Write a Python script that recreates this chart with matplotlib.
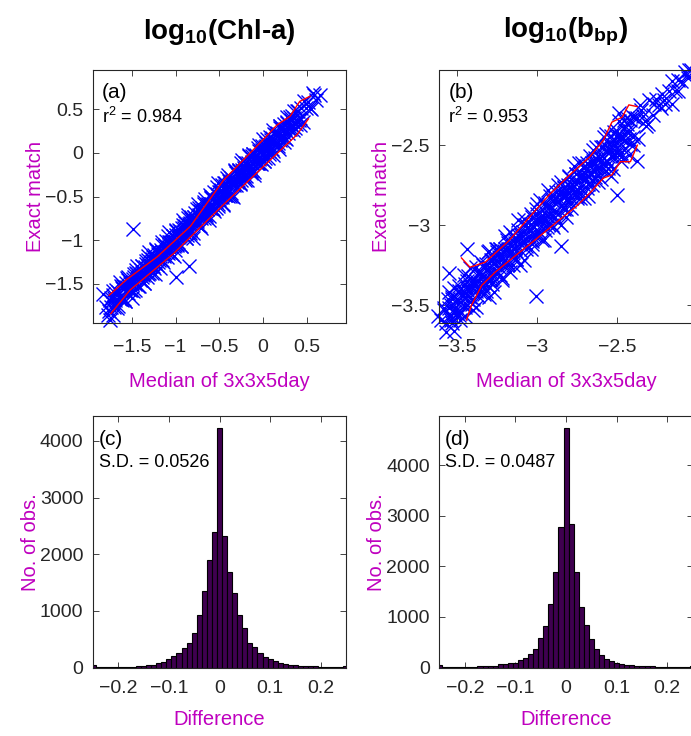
import numpy as np
import matplotlib
matplotlib.use('Agg')
import matplotlib.pyplot as plt
from matplotlib.ticker import FuncFormatter

plt.rcParams['font.family'] = ['Liberation Sans', 'DejaVu Sans']
plt.rcParams['mathtext.fontset'] = 'custom'
plt.rcParams['mathtext.rm'] = 'Liberation Sans'
plt.rcParams['mathtext.it'] = 'Liberation Sans:italic'
plt.rcParams['mathtext.bf'] = 'Liberation Sans:bold'
plt.rcParams['axes.unicode_minus'] = True

# ---------------- data ----------------
column_titles = ['log$_{\\mathbf{10}}$(Chl-a)', 'log$_{\\mathbf{10}}$(b$_{\\mathbf{bp}}$)']
panel_tags = ['(a)', '(b)', '(c)', '(d)']
r2_texts = ['r$^2$ = 0.984', 'r$^2$ = 0.953']
sd_texts = ['S.D. = 0.0526', 'S.D. = 0.0487']

# Panel (a): median of 3x3x5day (x) and difference exact - median (d)
chl_median_1 = [
    -1.80, -1.77, -1.75, -1.74, -1.72, -1.70, -1.69, -1.67, -1.66, -1.64,
    -1.63, -1.61, -1.60, -1.58, -1.57, -1.55, -1.54, -1.52, -1.51, -1.49,
    -1.48, -1.46, -1.45, -1.43, -1.42, -1.40, -1.39, -1.37, -1.36, -1.34,
    -1.33, -1.31, -1.30, -1.28, -1.27, -1.25, -1.24, -1.22, -1.21, -1.19,
    -1.18, -1.16, -1.15, -1.13, -1.12, -1.10, -1.09, -1.07, -1.06, -1.04,
    -1.03, -1.01, -1.00, -0.98, -0.97, -0.95, -0.94, -0.92, -0.91, -0.89,
    -0.88, -0.86, -0.85, -0.83, -0.82, -0.80, -0.79, -0.77, -0.76, -0.74,
    -0.73, -0.71, -0.70, -0.68, -0.67, -0.65, -0.64, -0.62, -0.61, -0.59,
    -0.58, -0.56, -0.55, -0.53, -0.52, -0.50, -0.49, -0.47, -0.46, -0.44,
    -0.43, -0.41, -0.40, -0.38, -0.37, -0.35, -0.34, -0.32, -0.31, -0.29,
    -0.28, -0.26, -0.25, -0.23, -0.22, -0.20, -0.19, -0.17, -0.16, -0.14,
    -0.13, -0.11, -0.10, -0.08, -0.07, -0.05, -0.04, -0.02, -0.01, 0.01,
    0.02, 0.04, 0.05, 0.07, 0.08, 0.10, 0.11, 0.13, 0.14, 0.16,
    0.17, 0.19, 0.20, 0.22, 0.24, 0.25, 0.27, 0.29, 0.31, 0.33,
    0.35, 0.37, 0.39, 0.41, 0.44, 0.46, 0.49, 0.52, 0.55, 0.58,
    -1.50, -1.44, -1.38, -1.32, -1.26, -1.20, -1.14, -1.08, -1.02, -0.96,
    -0.90, -0.84, -0.78, -0.72, -0.66, -0.60, -0.54, -0.48, -0.42, -0.36,
    -0.30, -0.24, -0.18, -0.12, -0.06, 0.00, 0.06, 0.12, 0.18, 0.24,
]
chl_diff_1 = [
    0.03, -0.09, 0.06, -0.02, 0.09, -0.06, 0.01, -0.11, 0.07, -0.03,
    0.10, -0.07, 0.04, -0.12, 0.08, -0.01, 0.12, -0.05, 0.02, -0.09,
    0.06, -0.03, 0.11, -0.10, 0.04, -0.06, 0.09, 0.00, -0.13, 0.07,
    -0.04, 0.13, -0.08, 0.03, -0.11, 0.08, -0.02, 0.11, -0.07, 0.05,
    -0.14, 0.02, 0.10, -0.05, 0.07, -0.09, 0.14, -0.01, 0.04, -0.12,
    0.08, -0.04, 0.12, -0.08, 0.01, 0.06, -0.13, 0.10, -0.02, 0.05,
    -0.10, 0.15, -0.06, 0.03, 0.09, -0.12, 0.06, -0.03, 0.12, -0.08,
    0.02, -0.15, 0.07, -0.01, 0.11, -0.06, 0.04, -0.10, 0.13, -0.04,
    0.08, -0.11, 0.01, 0.14, -0.07, 0.05, -0.02, 0.10, -0.13, 0.06,
    -0.05, 0.12, -0.09, 0.03, 0.08, -0.14, 0.00, 0.11, -0.06, 0.04,
    0.09, -0.08, 0.13, -0.03, 0.05, -0.11, 0.07, -0.01, 0.12, -0.09,
    0.02, 0.10, -0.12, 0.06, -0.04, 0.14, -0.07, 0.03, 0.09, -0.10,
    0.05, -0.02, 0.11, -0.08, 0.01, 0.07, -0.13, 0.09, -0.04, 0.03,
    -0.09, 0.12, -0.05, 0.06, -0.11, 0.02, 0.08, -0.06, 0.10, -0.02,
    0.05, -0.08, 0.09, -0.03, 0.07, -0.10, 0.03, 0.06, -0.05, 0.08,
    0.00, 0.05, -0.04, 0.02, -0.03, 0.04, -0.02, 0.06, -0.05, 0.01,
    0.04, -0.03, 0.00, 0.05, -0.04, 0.02, -0.01, 0.03, -0.02, 0.01,
    -0.03, 0.04, -0.01, 0.02, -0.05, 0.00, 0.03, -0.02, 0.04, -0.01,
]
chl_median_2 = [
    -1.76, -1.74, -1.72, -1.70, -1.68, -1.66, -1.64, -1.62, -1.60, -1.58,
    -1.56, -1.54, -1.52, -1.50, -1.48, -1.46, -1.44, -1.42, -1.40, -1.38,
    -1.36, -1.34, -1.32, -1.30, -1.28, -1.26, -1.24, -1.22, -1.20, -1.18,
    -1.16, -1.14, -1.12, -1.10, -1.08, -1.06, -1.04, -1.02, -1.00, -0.98,
    -0.96, -0.94, -0.92, -0.90, -0.88, -0.86, -0.84, -0.82, -0.80, -0.78,
    -0.76, -0.74, -0.72, -0.70, -0.68, -0.66, -0.64, -0.62, -0.60, -0.58,
    -0.56, -0.54, -0.52, -0.50, -0.48, -0.46, -0.44, -0.42, -0.40, -0.38,
    -0.36, -0.34, -0.32, -0.30, -0.28, -0.26, -0.24, -0.22, -0.20, -0.18,
    -0.16, -0.14, -0.12, -0.10, -0.08, -0.06, -0.04, -0.02, 0.00, 0.02,
    0.04, 0.06, 0.08, 0.10, 0.12, 0.14, 0.16, 0.18, 0.20, 0.22,
    0.24, 0.26, 0.28, 0.30, 0.32, 0.34, 0.36, 0.38, 0.40, 0.42,
]
chl_diff_2 = [
    -0.05, 0.08, -0.14, 0.04, 0.11, -0.09, 0.16, -0.02, 0.07, -0.12,
    0.13, -0.06, 0.03, -0.16, 0.09, -0.04, 0.15, -0.10, 0.06, 0.00,
    -0.13, 0.10, -0.07, 0.16, -0.01, 0.07, -0.15, 0.12, -0.05, 0.03,
    0.14, -0.11, 0.05, -0.03, 0.17, -0.08, 0.02, -0.16, 0.10, -0.06,
    0.08, -0.13, 0.15, -0.01, -0.09, 0.12, -0.04, 0.06, -0.17, 0.09,
    -0.02, 0.16, -0.12, 0.04, -0.07, 0.13, 0.00, -0.15, 0.08, -0.05,
    0.11, -0.09, 0.17, -0.03, 0.06, -0.14, 0.10, -0.06, 0.15, -0.11,
    0.03, -0.16, 0.12, -0.02, 0.08, -0.10, 0.16, -0.05, 0.01, -0.13,
    0.14, -0.07, 0.09, -0.15, 0.05, 0.12, -0.03, -0.11, 0.16, -0.08,
    0.04, -0.12, 0.10, -0.06, 0.14, -0.01, 0.07, -0.14, 0.11, -0.04,
    0.09, -0.10, 0.13, -0.03, 0.06, -0.08, 0.12, -0.05, 0.08, -0.02,
]
chl_median_3 = [
    -1.65, -1.63, -1.61, -1.59, -1.57, -1.55, -1.53, -1.51, -1.49, -1.47,
    -1.45, -1.43, -1.41, -1.39, -1.37, -1.35, -1.33, -1.31, -1.29, -1.27,
    -1.25, -1.23, -1.21, -1.19, -1.17, -1.15, -1.13, -1.11, -1.09, -1.07,
    -1.05, -1.03, -1.01, -0.99, -0.97, -0.95, -0.93, -0.91, -0.89, -0.87,
    -0.85, -0.83, -0.81, -0.79, -0.77, -0.75, -0.73, -0.71, -0.69, -0.67,
    -0.65, -0.63, -0.61, -0.59, -0.57, -0.55, -0.53, -0.51, -0.49, -0.47,
    -0.45, -0.43, -0.41, -0.39, -0.37, -0.35, -0.33, -0.31, -0.29, -0.27,
    -0.25, -0.23, -0.21, -0.19, -0.17, -0.15, -0.13, -0.11, -0.09, -0.07,
    -0.05, -0.03, -0.01, 0.01, 0.03, 0.05, 0.07, 0.09, 0.11, 0.13,
    0.15, 0.17, 0.19, 0.21, 0.23, 0.25, 0.27, 0.29, 0.31, 0.33,
    0.35,
]
chl_diff_3 = [
    0.00, -0.04, 0.06, -0.08, 0.03, 0.09, -0.02, -0.06, 0.05, -0.10,
    0.07, 0.01, -0.05, 0.10, -0.03, 0.04, -0.09, 0.08, -0.01, 0.05,
    -0.07, 0.02, 0.09, -0.04, 0.06, -0.08, 0.00, 0.10, -0.06, 0.03,
    -0.02, 0.08, -0.10, 0.05, -0.05, 0.01, 0.07, -0.03, 0.09, -0.07,
    0.04, -0.09, 0.02, 0.06, -0.01, -0.06, 0.10, -0.04, 0.03, 0.08,
    -0.08, 0.05, -0.02, 0.09, -0.07, 0.00, 0.06, -0.10, 0.04, -0.03,
    0.10, -0.05, 0.01, 0.07, -0.09, 0.03, -0.04, 0.08, -0.02, 0.06,
    -0.06, 0.02, 0.09, -0.08, 0.05, -0.01, -0.07, 0.10, 0.00, -0.04,
    0.07, -0.03, 0.04, -0.10, 0.08, 0.01, -0.05, 0.06, -0.09, 0.02,
    0.05, -0.06, 0.10, -0.02, 0.03, -0.08, 0.07, 0.00, -0.04, 0.09,
    -0.01,
]
chl_out_x = [-1.49, -0.99, -0.85, 0.61, 0.54, 0.42, 0.65, 0.57, 0.47, 0.39, -1.83, -1.75, -1.72]
chl_out_y = [-0.87, -1.42, -1.30, 0.61, 0.51, 0.32, 0.66, 0.69, 0.60, 0.38, -1.62, -1.91, -1.58]

# red percentile envelope, panel (a)
chl_up_x = [-1.76, -1.56, -1.21, -0.83, -0.45, 0.00, 0.16, 0.31, 0.42, 0.54]
chl_up_y = [-1.63, -1.45, -1.19, -0.84, -0.31, 0.15, 0.32, 0.42, 0.59, 0.65]
chl_lo_x = [-1.74, -1.52, -1.02, -0.45, 0.00, 0.20, 0.39, 0.52]
chl_lo_y = [-1.84, -1.57, -1.15, -0.59, -0.16, 0.03, 0.21, 0.39]

# Panel (b)
bbp_median_1 = [
    -3.60, -3.58, -3.57, -3.56, -3.55, -3.54, -3.53, -3.52, -3.51, -3.50,
    -3.49, -3.48, -3.47, -3.46, -3.45, -3.44, -3.43, -3.42, -3.41, -3.40,
    -3.39, -3.38, -3.37, -3.36, -3.35, -3.34, -3.33, -3.32, -3.31, -3.30,
    -3.29, -3.28, -3.27, -3.26, -3.25, -3.24, -3.23, -3.22, -3.21, -3.20,
    -3.19, -3.18, -3.17, -3.16, -3.15, -3.14, -3.13, -3.12, -3.11, -3.10,
    -3.09, -3.08, -3.07, -3.06, -3.05, -3.04, -3.03, -3.02, -3.01, -3.00,
    -2.99, -2.98, -2.97, -2.96, -2.95, -2.94, -2.93, -2.92, -2.91, -2.90,
    -2.89, -2.88, -2.87, -2.86, -2.85, -2.84, -2.83, -2.82, -2.81, -2.80,
    -2.79, -2.78, -2.77, -2.76, -2.75, -2.74, -2.73, -2.72, -2.71, -2.70,
    -2.69, -2.68, -2.67, -2.66, -2.65, -2.64, -2.63, -2.62, -2.61, -2.60,
    -2.59, -2.58, -2.57, -2.56, -2.55, -2.54, -2.53, -2.52, -2.51, -2.50,
    -2.49, -2.48, -2.47, -2.46, -2.45, -2.44, -2.43, -2.42, -2.41, -2.40,
    -2.39, -2.37, -2.36, -2.34, -2.32, -2.30, -2.28, -2.26, -2.24, -2.22,
    -2.20, -2.18, -2.16, -2.14, -2.12, -2.10, -2.08, -2.06, -2.05, -2.04,
    -3.45, -3.38, -3.31, -3.24, -3.17, -3.10, -3.03, -2.96, -2.89, -2.82,
    -2.75, -2.68, -2.61, -2.54, -2.47, -3.52, -3.42, -3.28, -3.14, -3.00,
]
bbp_diff_1 = [
    0.01, 0.06, -0.04, 0.10, -0.02, 0.04, -0.08, 0.13, 0.00, -0.05,
    0.08, -0.11, 0.03, 0.15, -0.06, 0.05, 0.11, -0.03, 0.07, -0.13,
    0.02, 0.12, -0.07, 0.06, -0.01, 0.09, -0.10, 0.04, 0.14, -0.04,
    0.07, -0.09, 0.03, 0.11, -0.05, 0.01, 0.08, -0.12, 0.05, -0.02,
    0.10, -0.06, 0.13, 0.00, -0.10, 0.06, -0.03, 0.09, -0.14, 0.04,
    -0.01, 0.12, -0.08, 0.05, 0.02, -0.11, 0.08, -0.04, 0.11, -0.07,
    0.03, 0.14, -0.02, -0.13, 0.07, 0.00, -0.06, 0.10, -0.09, 0.05,
    -0.03, 0.09, -0.11, 0.02, 0.12, -0.05, 0.06, -0.08, 0.01, 0.11,
    -0.10, 0.04, -0.02, 0.08, -0.07, 0.13, -0.04, 0.03, -0.12, 0.07,
    0.00, -0.06, 0.10, -0.09, 0.05, -0.02, 0.12, -0.07, 0.03, -0.11,
    0.08, -0.04, 0.14, -0.08, 0.02, 0.10, -0.12, 0.05, -0.03, 0.09,
    -0.07, 0.04, -0.10, 0.12, -0.02, 0.07, -0.13, 0.01, 0.09, -0.05,
    0.06, -0.09, 0.11, 0.02, -0.06, 0.08, -0.03, 0.05, -0.01, 0.04,
    -0.04, 0.02, 0.06, -0.02, 0.03, 0.00, 0.04, -0.01, 0.02, 0.01,
    0.00, 0.03, -0.03, 0.04, -0.01, 0.02, -0.04, 0.01, 0.03, -0.02,
    0.02, -0.01, 0.03, -0.03, 0.01, -0.02, 0.04, -0.03, 0.05, 0.02,
]
bbp_median_2 = [
    -3.58, -3.57, -3.55, -3.54, -3.53, -3.52, -3.50, -3.49, -3.48, -3.47,
    -3.45, -3.44, -3.43, -3.42, -3.40, -3.39, -3.38, -3.37, -3.35, -3.34,
    -3.33, -3.32, -3.30, -3.29, -3.28, -3.27, -3.25, -3.24, -3.23, -3.22,
    -3.20, -3.19, -3.18, -3.17, -3.15, -3.14, -3.13, -3.12, -3.10, -3.09,
    -3.08, -3.07, -3.05, -3.04, -3.03, -3.02, -3.00, -2.99, -2.98, -2.97,
    -2.95, -2.94, -2.93, -2.92, -2.90, -2.89, -2.88, -2.87, -2.85, -2.84,
    -2.83, -2.82, -2.80, -2.79, -2.78, -2.77, -2.75, -2.74, -2.73, -2.72,
    -2.70, -2.69, -2.68, -2.67, -2.65, -2.64, -2.63, -2.62, -2.60, -2.59,
    -2.58, -2.57, -2.55, -2.54, -2.53, -2.52, -2.50, -2.49, -2.48, -2.47,
    -2.45, -2.44, -2.43, -2.42, -2.40, -2.38, -2.35, -2.31, -2.27, -2.23,
]
bbp_diff_2 = [
    0.05, -0.10, 0.13, -0.03, 0.08, -0.14, 0.02, 0.11, -0.07, 0.04,
    -0.12, 0.09, -0.01, 0.15, -0.06, 0.03, -0.13, 0.07, 0.12, -0.04,
    0.01, -0.09, 0.14, -0.05, 0.06, -0.15, 0.10, -0.02, 0.08, -0.11,
    0.13, -0.04, 0.03, -0.12, 0.09, 0.00, -0.08, 0.15, -0.06, 0.05,
    -0.14, 0.07, -0.02, 0.11, -0.09, 0.04, 0.13, -0.05, 0.02, -0.12,
    0.09, -0.07, 0.15, -0.01, -0.11, 0.06, -0.03, 0.12, -0.15, 0.03,
    0.07, -0.13, 0.10, -0.04, 0.01, 0.14, -0.08, 0.05, -0.10, 0.11,
    -0.02, 0.08, -0.14, 0.04, 0.12, -0.06, 0.00, -0.11, 0.09, -0.03,
    0.13, -0.09, 0.06, -0.15, 0.03, 0.10, -0.05, 0.14, -0.12, 0.02,
    -0.07, 0.11, -0.03, 0.08, -0.10, 0.05, 0.07, -0.06, 0.03, -0.04,
]
bbp_median_3 = [
    -3.55, -3.54, -3.53, -3.52, -3.50, -3.49, -3.48, -3.47, -3.46, -3.45,
    -3.44, -3.43, -3.41, -3.40, -3.39, -3.38, -3.37, -3.36, -3.35, -3.34,
    -3.32, -3.31, -3.30, -3.29, -3.28, -3.27, -3.26, -3.25, -3.23, -3.22,
    -3.21, -3.20, -3.19, -3.18, -3.17, -3.16, -3.14, -3.13, -3.12, -3.11,
    -3.10, -3.09, -3.08, -3.07, -3.05, -3.04, -3.03, -3.02, -3.01, -3.00,
    -2.99, -2.98, -2.96, -2.95, -2.94, -2.93, -2.92, -2.91, -2.90, -2.89,
    -2.87, -2.86, -2.85, -2.84, -2.83, -2.82, -2.81, -2.80, -2.78, -2.77,
    -2.76, -2.75, -2.74, -2.73, -2.72, -2.71, -2.69, -2.68, -2.67, -2.66,
    -2.65, -2.64, -2.63, -2.62, -2.60, -2.59, -2.58, -2.57, -2.56, -2.55,
    -2.54, -2.53, -2.51, -2.50, -2.49, -2.48, -2.47, -2.46, -2.45, -2.44,
]
bbp_diff_3 = [
    0.03, -0.05, 0.07, -0.02, 0.04, -0.07, 0.00, 0.06, -0.04, 0.08,
    -0.06, 0.02, -0.08, 0.05, 0.01, -0.03, 0.07, -0.06, 0.03, -0.01,
    0.08, -0.07, 0.04, 0.00, -0.05, 0.06, -0.02, 0.08, -0.08, 0.02,
    -0.03, 0.05, -0.06, 0.07, 0.01, -0.04, 0.03, -0.08, 0.06, 0.00,
    0.04, -0.02, 0.08, -0.06, 0.02, 0.05, -0.07, 0.01, -0.03, 0.07,
    -0.05, 0.03, 0.00, -0.08, 0.06, -0.01, 0.04, -0.04, 0.08, -0.06,
    0.02, 0.07, -0.03, 0.05, -0.07, 0.00, 0.06, -0.05, 0.03, -0.02,
    0.08, -0.04, 0.01, -0.06, 0.04, 0.07, -0.08, 0.02, -0.01, 0.05,
    -0.07, 0.06, -0.02, 0.03, -0.05, 0.08, 0.00, -0.03, 0.04, -0.06,
    0.01, -0.04, 0.07, -0.01, 0.05, -0.07, 0.02, 0.06, -0.02, 0.03,
]
bbp_out_x = [-3.44, -3.01, -2.85, -2.50, -3.62, -2.49, -3.55, -3.30, -2.33, -2.21, -2.12, -2.06, -2.16, -2.42, -2.38]
bbp_out_y = [-3.15, -3.44, -3.13, -2.81, -3.57, -2.30, -3.30, -3.45, -2.35, -2.22, -2.16, -2.08, -2.24, -2.49, -2.60]

bbp_up_x = [-3.473, -3.42, -3.325, -3.177, -3.051, -2.924, -2.797, -2.671, -2.587, -2.534, -2.47, -2.428, -2.375]
bbp_up_y = [-3.205, -3.263, -3.232, -3.098, -2.953, -2.809, -2.686, -2.572, -2.469, -2.356, -2.325, -2.248, -2.259]
bbp_lo_x = [-3.441, -3.41, -3.346, -3.261, -3.135, -3.008, -2.882, -2.755, -2.671, -2.587, -2.534, -2.481, -2.418, -2.375]
bbp_lo_y = [-3.593, -3.50, -3.376, -3.293, -3.19, -3.088, -2.984, -2.882, -2.799, -2.706, -2.686, -2.603, -2.603, -2.50]

# Histograms of difference (bin centres every 0.01 from -0.25 to 0.25)
diff_bins = [round(-0.25 + 0.01 * i, 2) for i in range(51)]
chl_counts = [40, 5, 5, 6, 8, 9, 11, 13, 17, 22, 28, 36, 52, 80, 102, 158, 198, 262, 352, 440,
              610, 935, 1350, 1890, 2400, 4230, 2315, 1690, 1315, 935, 705, 440, 365, 260, 188, 142,
              112, 82, 65, 52, 41, 34, 28, 23, 19, 15, 12, 10, 8, 7, 30]
bbp_counts = [45, 8, 8, 9, 10, 12, 15, 18, 22, 26, 30, 36, 69, 76, 82, 96, 148, 181, 267, 360,
              578, 828, 1251, 1898, 2790, 4750, 2835, 1898, 1205, 842, 558, 360, 248, 168, 129, 96,
              69, 56, 50, 36, 30, 25, 22, 18, 15, 12, 10, 9, 8, 7, 30]

chl_ticks = [-1.5, -1, -0.5, 0, 0.5]
chl_lim = [-1.945, 0.95]
bbp_ticks = [-3.5, -3, -2.5]
bbp_lim = [-3.61, -2.03]
diff_ticks = [-0.2, -0.1, 0, 0.1, 0.2]
diff_lim = [-0.25, 0.25]
count_ticks = [0, 1000, 2000, 3000, 4000]
chl_count_lim = [0, 4440]
bbp_count_lim = [0, 4980]

# ---------------- figure ----------------
W, H = 691, 736
fig = plt.figure(figsize=(W / 100, H / 100), dpi=100)


def px_axes(l, t, r, b):
    return fig.add_axes([l / W, 1 - b / H, (r - l) / W, (b - t) / H])


axa = px_axes(93, 70, 346, 322.7)
axb = px_axes(439.5, 70, 692.6, 322.7)
axc = px_axes(93, 416, 346, 667.5)
axd = px_axes(439.5, 416, 692.6, 667.5)

MAG = '#BF00BF'
GRAY = '#262626'


def fmt(v, pos):
    return ('%g' % v).replace('-', '\u2212')


def style(ax, xpad):
    for s in ax.spines.values():
        s.set_color(GRAY)
        s.set_linewidth(0.8)
    ax.tick_params(direction='in', top=True, right=True, length=4, width=0.6,
                   colors=GRAY, labelsize=14)
    ax.tick_params(axis='x', pad=xpad)
    ax.tick_params(axis='y', pad=7)
    ax.xaxis.set_major_formatter(FuncFormatter(fmt))
    ax.yaxis.set_major_formatter(FuncFormatter(fmt))


# scatter panels
scat = [
    (axa, [chl_median_1, chl_median_2, chl_median_3], [chl_diff_1, chl_diff_2, chl_diff_3],
     chl_out_x, chl_out_y, chl_up_x, chl_up_y, chl_lo_x, chl_lo_y, chl_ticks, chl_lim),
    (axb, [bbp_median_1, bbp_median_2, bbp_median_3], [bbp_diff_1, bbp_diff_2, bbp_diff_3],
     bbp_out_x, bbp_out_y, bbp_up_x, bbp_up_y, bbp_lo_x, bbp_lo_y, bbp_ticks, bbp_lim),
]
for i, (ax, xms, dds, ox, oy, ux, uy, lx, ly, ticks, lim) in enumerate(scat):
    xm = np.concatenate([np.array(v) for v in xms])
    dd = np.concatenate([np.array(v) for v in dds])
    yy = xm + dd
    xs = np.concatenate([xm, ox])
    ys = np.concatenate([yy, oy])
    ax.plot(xs, ys, linestyle='none', marker='x', color='#0000FF', ms=9.5, mew=1.0, clip_on=False, zorder=2)
    ax.plot(ux, uy, color='#FF0000', lw=1.0, zorder=3)
    ax.plot(lx, ly, color='#FF0000', lw=1.0, zorder=3)
    ax.set_xlim(lim)
    ax.set_ylim(lim)
    ax.set_xticks(ticks)
    ax.set_yticks(ticks)
    style(ax, 12)
    ax.set_xlabel('Median of 3x3x5day', color=MAG, fontsize=14.5, labelpad=11.5)
    ax.set_ylabel('Exact match', color=MAG, fontsize=14.5, labelpad=0)
    ax.text(0.036, 0.89, panel_tags[i], transform=ax.transAxes, fontsize=15, color='black', va='baseline')
    ax.text(0.034, 0.79, r2_texts[i], transform=ax.transAxes, fontsize=13, color='black', va='baseline')

# histogram panels
hists = [(axc, chl_counts, chl_count_lim), (axd, bbp_counts, bbp_count_lim)]
for i, (ax, counts, ylim) in enumerate(hists):
    ax.bar(diff_bins, counts, width=0.01, color='#3F0050', edgecolor='black', linewidth=0.8, zorder=2)
    ax.set_xlim(diff_lim)
    ax.set_ylim(ylim)
    ax.set_xticks(diff_ticks)
    ax.set_yticks(count_ticks)
    style(ax, 9)
    ax.set_xlabel('Difference', color=MAG, fontsize=14.5, labelpad=9.5)
    ax.set_ylabel('No. of obs.', color=MAG, fontsize=14.5, labelpad=0)
    ax.text(0.022, 0.885, panel_tags[i + 2], transform=ax.transAxes, fontsize=15, color='black', va='baseline')
    ax.text(0.022, 0.796, sd_texts[i], transform=ax.transAxes, fontsize=13, color='black', va='baseline')

# column titles
fig.text(219.5 / W, 1 - 32 / H, column_titles[0], ha='center', va='center', fontsize=20, fontweight='bold')
fig.text(566 / W, 1 - 32 / H, column_titles[1], ha='center', va='center', fontsize=20, fontweight='bold')

fig.savefig('out.png', dpi=100, facecolor='white')
